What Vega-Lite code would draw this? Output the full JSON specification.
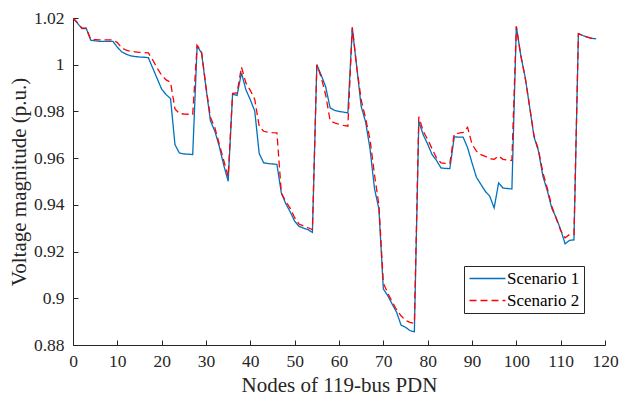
{
  "$schema": "https://vega.github.io/schema/vega-lite/v6.json",
  "width": 532,
  "height": 327,
  "autosize": {"type": "none"},
  "padding": {"left": 73, "top": 18, "right": 14, "bottom": 51},
  "background": "white",
  "config": {
    "font": "Liberation Serif",
    "view": {"stroke": null},
    "style": {"guide-label": {"font": "Liberation Serif"}, "guide-title": {"font": "Liberation Serif"}},
    "legend": {"labelFont": "Liberation Serif", "labelFontSize": 17},
    "axis": {
      "grid": false,
      "domainColor": "#262626",
      "tickColor": "#262626",
      "labelColor": "#262626",
      "titleColor": "#262626",
      "labelFont": "Liberation Serif",
      "titleFont": "Liberation Serif",
      "labelFontSize": 17.5,
      "titleFontSize": 21,
      "titleFontWeight": "normal",
      "tickSize": -5,
      "domainWidth": 1,
      "tickWidth": 1
    }
  },
  "data": {
    "values": [
      {"node":0,"Scenario 1":1.0200,"Scenario 2":1.0200},
      {"node":1,"Scenario 1":1.0178,"Scenario 2":1.0180},
      {"node":2,"Scenario 1":1.0155,"Scenario 2":1.0157},
      {"node":3,"Scenario 1":1.0155,"Scenario 2":1.0157},
      {"node":4,"Scenario 1":1.0105,"Scenario 2":1.0108},
      {"node":5,"Scenario 1":1.0102,"Scenario 2":1.0107},
      {"node":6,"Scenario 1":1.0100,"Scenario 2":1.0106},
      {"node":7,"Scenario 1":1.0100,"Scenario 2":1.0106},
      {"node":8,"Scenario 1":1.0100,"Scenario 2":1.0106},
      {"node":9,"Scenario 1":1.0100,"Scenario 2":1.0106},
      {"node":10,"Scenario 1":1.0075,"Scenario 2":1.0095},
      {"node":11,"Scenario 1":1.0055,"Scenario 2":1.0072},
      {"node":12,"Scenario 1":1.0045,"Scenario 2":1.0062},
      {"node":13,"Scenario 1":1.0038,"Scenario 2":1.0057},
      {"node":14,"Scenario 1":1.0035,"Scenario 2":1.0055},
      {"node":15,"Scenario 1":1.0033,"Scenario 2":1.0053},
      {"node":16,"Scenario 1":1.0032,"Scenario 2":1.0052},
      {"node":17,"Scenario 1":1.0030,"Scenario 2":1.0051},
      {"node":18,"Scenario 1":0.9985,"Scenario 2":1.0020},
      {"node":19,"Scenario 1":0.9940,"Scenario 2":0.9985},
      {"node":20,"Scenario 1":0.9895,"Scenario 2":0.9955},
      {"node":21,"Scenario 1":0.9872,"Scenario 2":0.9935},
      {"node":22,"Scenario 1":0.9855,"Scenario 2":0.9925},
      {"node":23,"Scenario 1":0.9658,"Scenario 2":0.9811},
      {"node":24,"Scenario 1":0.9622,"Scenario 2":0.9791},
      {"node":25,"Scenario 1":0.9618,"Scenario 2":0.9789},
      {"node":26,"Scenario 1":0.9617,"Scenario 2":0.9788},
      {"node":27,"Scenario 1":0.9615,"Scenario 2":0.9787},
      {"node":28,"Scenario 1":1.0080,"Scenario 2":1.0083},
      {"node":29,"Scenario 1":1.0050,"Scenario 2":1.0055},
      {"node":30,"Scenario 1":0.9900,"Scenario 2":0.9905},
      {"node":31,"Scenario 1":0.9760,"Scenario 2":0.9775},
      {"node":32,"Scenario 1":0.9715,"Scenario 2":0.9730},
      {"node":33,"Scenario 1":0.9650,"Scenario 2":0.9660},
      {"node":34,"Scenario 1":0.9570,"Scenario 2":0.9590},
      {"node":35,"Scenario 1":0.9501,"Scenario 2":0.9522},
      {"node":36,"Scenario 1":0.9875,"Scenario 2":0.9877},
      {"node":37,"Scenario 1":0.9868,"Scenario 2":0.9879},
      {"node":38,"Scenario 1":0.9965,"Scenario 2":0.9990},
      {"node":39,"Scenario 1":0.9893,"Scenario 2":0.9922},
      {"node":40,"Scenario 1":0.9850,"Scenario 2":0.9890},
      {"node":41,"Scenario 1":0.9801,"Scenario 2":0.9851},
      {"node":42,"Scenario 1":0.9620,"Scenario 2":0.9737},
      {"node":43,"Scenario 1":0.9580,"Scenario 2":0.9715},
      {"node":44,"Scenario 1":0.9577,"Scenario 2":0.9711},
      {"node":45,"Scenario 1":0.9575,"Scenario 2":0.9709},
      {"node":46,"Scenario 1":0.9573,"Scenario 2":0.9708},
      {"node":47,"Scenario 1":0.9450,"Scenario 2":0.9450},
      {"node":48,"Scenario 1":0.9405,"Scenario 2":0.9415},
      {"node":49,"Scenario 1":0.9370,"Scenario 2":0.9385},
      {"node":50,"Scenario 1":0.9330,"Scenario 2":0.9345},
      {"node":51,"Scenario 1":0.9308,"Scenario 2":0.9318},
      {"node":52,"Scenario 1":0.9300,"Scenario 2":0.9310},
      {"node":53,"Scenario 1":0.9294,"Scenario 2":0.9302},
      {"node":54,"Scenario 1":0.9282,"Scenario 2":0.9294},
      {"node":55,"Scenario 1":1.0000,"Scenario 2":1.0000},
      {"node":56,"Scenario 1":0.9955,"Scenario 2":0.9945},
      {"node":57,"Scenario 1":0.9905,"Scenario 2":0.9870},
      {"node":58,"Scenario 1":0.9815,"Scenario 2":0.9760},
      {"node":59,"Scenario 1":0.9805,"Scenario 2":0.9751},
      {"node":60,"Scenario 1":0.9800,"Scenario 2":0.9745},
      {"node":61,"Scenario 1":0.9797,"Scenario 2":0.9740},
      {"node":62,"Scenario 1":0.9794,"Scenario 2":0.9737},
      {"node":63,"Scenario 1":1.0158,"Scenario 2":1.0160},
      {"node":64,"Scenario 1":0.9990,"Scenario 2":0.9990},
      {"node":65,"Scenario 1":0.9822,"Scenario 2":0.9850},
      {"node":66,"Scenario 1":0.9755,"Scenario 2":0.9770},
      {"node":67,"Scenario 1":0.9640,"Scenario 2":0.9680},
      {"node":68,"Scenario 1":0.9470,"Scenario 2":0.9530},
      {"node":69,"Scenario 1":0.9383,"Scenario 2":0.9400},
      {"node":70,"Scenario 1":0.9040,"Scenario 2":0.9065},
      {"node":71,"Scenario 1":0.9011,"Scenario 2":0.9022},
      {"node":72,"Scenario 1":0.8975,"Scenario 2":0.8985},
      {"node":73,"Scenario 1":0.8940,"Scenario 2":0.8951},
      {"node":74,"Scenario 1":0.8885,"Scenario 2":0.8925},
      {"node":75,"Scenario 1":0.8876,"Scenario 2":0.8905},
      {"node":76,"Scenario 1":0.8862,"Scenario 2":0.8897},
      {"node":77,"Scenario 1":0.8857,"Scenario 2":0.8893},
      {"node":78,"Scenario 1":0.9757,"Scenario 2":0.9777},
      {"node":79,"Scenario 1":0.9700,"Scenario 2":0.9715},
      {"node":80,"Scenario 1":0.9660,"Scenario 2":0.9680},
      {"node":81,"Scenario 1":0.9615,"Scenario 2":0.9640},
      {"node":82,"Scenario 1":0.9590,"Scenario 2":0.9600},
      {"node":83,"Scenario 1":0.9558,"Scenario 2":0.9580},
      {"node":84,"Scenario 1":0.9556,"Scenario 2":0.9578},
      {"node":85,"Scenario 1":0.9555,"Scenario 2":0.9577},
      {"node":86,"Scenario 1":0.9691,"Scenario 2":0.9705},
      {"node":87,"Scenario 1":0.9690,"Scenario 2":0.9707},
      {"node":88,"Scenario 1":0.9690,"Scenario 2":0.9710},
      {"node":89,"Scenario 1":0.9645,"Scenario 2":0.9732},
      {"node":90,"Scenario 1":0.9580,"Scenario 2":0.9660},
      {"node":91,"Scenario 1":0.9518,"Scenario 2":0.9630},
      {"node":92,"Scenario 1":0.9488,"Scenario 2":0.9615},
      {"node":93,"Scenario 1":0.9458,"Scenario 2":0.9608},
      {"node":94,"Scenario 1":0.9437,"Scenario 2":0.9598},
      {"node":95,"Scenario 1":0.9387,"Scenario 2":0.9595},
      {"node":96,"Scenario 1":0.9494,"Scenario 2":0.9609},
      {"node":97,"Scenario 1":0.9472,"Scenario 2":0.9595},
      {"node":98,"Scenario 1":0.9470,"Scenario 2":0.9592},
      {"node":99,"Scenario 1":0.9468,"Scenario 2":0.9590},
      {"node":100,"Scenario 1":1.0164,"Scenario 2":1.0164},
      {"node":101,"Scenario 1":1.0040,"Scenario 2":1.0040},
      {"node":102,"Scenario 1":0.9945,"Scenario 2":0.9945},
      {"node":103,"Scenario 1":0.9820,"Scenario 2":0.9820},
      {"node":104,"Scenario 1":0.9690,"Scenario 2":0.9695},
      {"node":105,"Scenario 1":0.9630,"Scenario 2":0.9635},
      {"node":106,"Scenario 1":0.9522,"Scenario 2":0.9537},
      {"node":107,"Scenario 1":0.9460,"Scenario 2":0.9470},
      {"node":108,"Scenario 1":0.9385,"Scenario 2":0.9394},
      {"node":109,"Scenario 1":0.9345,"Scenario 2":0.9340},
      {"node":110,"Scenario 1":0.9294,"Scenario 2":0.9290},
      {"node":111,"Scenario 1":0.9233,"Scenario 2":0.9259},
      {"node":112,"Scenario 1":0.9248,"Scenario 2":0.9273},
      {"node":113,"Scenario 1":0.9250,"Scenario 2":0.9273},
      {"node":114,"Scenario 1":1.0133,"Scenario 2":1.0133},
      {"node":115,"Scenario 1":1.0125,"Scenario 2":1.0125},
      {"node":116,"Scenario 1":1.0118,"Scenario 2":1.0118},
      {"node":117,"Scenario 1":1.0113,"Scenario 2":1.0113},
      {"node":118,"Scenario 1":1.0111,"Scenario 2":1.0111}
    ]
  },
  "transform": [
    {"fold": ["Scenario 1", "Scenario 2"], "as": ["scenario", "v"]}
  ],
  "mark": {"type": "line", "strokeWidth": 1.3, "clip": true},
  "encoding": {
    "x": {
      "field": "node",
      "type": "quantitative",
      "scale": {"domain": [0, 120], "nice": false, "zero": false},
      "axis": {
        "title": "Nodes of 119-bus PDN",
        "values": [0, 10, 20, 30, 40, 50, 60, 70, 80, 90, 100, 110, 120],
        "labelPadding": 12,
        "titlePadding": 5,
        "labelFlush": false
      }
    },
    "y": {
      "field": "v",
      "type": "quantitative",
      "scale": {"domain": [0.88, 1.02], "nice": false, "zero": false},
      "axis": {
        "title": "Voltage magnitude (p.u.)",
        "values": [0.88, 0.9, 0.92, 0.94, 0.96, 0.98, 1, 1.02],
        "format": ".3~f",
        "labelPadding": 14,
        "titlePadding": 4,
        "labelFlush": false
      }
    },
    "color": {
      "field": "scenario",
      "type": "nominal",
      "scale": {"domain": ["Scenario 1", "Scenario 2"], "range": ["#0072BD", "#FF0000"]},
      "legend": {
        "title": null,
        "orient": "none",
        "legendX": 391,
        "legendY": 248,
        "strokeColor": "#262626",
        "fillColor": "white",
        "padding": 4,
        "symbolType": "M-3.6,0H3.6",
        "symbolSize": 100,
        "symbolStrokeWidth": 1.3,
        "symbolOffset": 11,
        "labelOffset": 11,
        "labelFont": "Liberation Serif",
        "labelFontSize": 17,
        "labelColor": "#000000",
        "rowPadding": 4,
        "encode": {
          "labels": {"update": {"font": {"value": "Liberation Serif"}, "fontSize": {"value": 17}}}
        }
      }
    },
    "strokeDash": {
      "field": "scenario",
      "type": "nominal",
      "scale": {"domain": ["Scenario 1", "Scenario 2"], "range": [[1, 0], [7, 4]]},
      "legend": null
    }
  }
}
